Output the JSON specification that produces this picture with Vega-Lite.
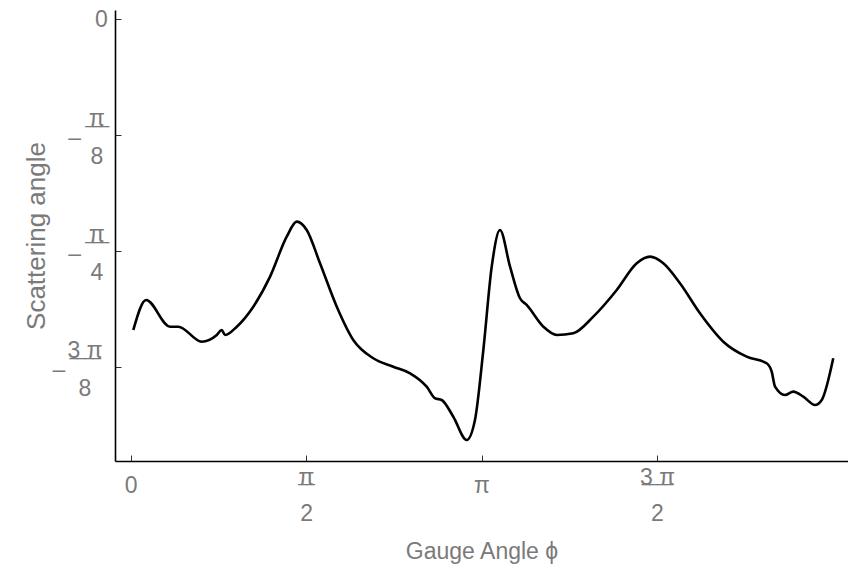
{
  "$schema": "https://vega.github.io/schema/vega-lite/v6.json",
  "width": 733,
  "height": 451,
  "autosize": {"type": "none"},
  "padding": {"left": 115, "top": 10, "right": 0, "bottom": 107},
  "background": "white",
  "config": {
    "view": {"stroke": null},
    "font": "Liberation Sans",
    "axis": {
      "grid": false,
      "domainColor": "#000000",
      "domainWidth": 1.6,
      "tickColor": "#333333",
      "tickWidth": 1,
      "tickSize": -6,
      "labelFont": "Liberation Sans",
      "labelFontSize": 23,
      "labelColor": "#7a7a7a",
      "titleFont": "Liberation Sans",
      "titleFontWeight": "normal",
      "titleColor": "#7a7a7a"
    }
  },
  "data": {
    "values": [
      {"phi": 0.025, "theta": -1.0512},
      {"phi": 0.139, "theta": -0.9496},
      {"phi": 0.354, "theta": -1.0400},
      {"phi": 0.428, "theta": -1.0400},
      {"phi": 0.637, "theta": -1.0908},
      {"phi": 0.772, "theta": -1.0681},
      {"phi": 0.816, "theta": -1.0512},
      {"phi": 0.846, "theta": -1.0681},
      {"phi": 0.951, "theta": -1.0400},
      {"phi": 1.099, "theta": -0.9723},
      {"phi": 1.249, "theta": -0.8707},
      {"phi": 1.398, "theta": -0.7353},
      {"phi": 1.488, "theta": -0.6845},
      {"phi": 1.577, "theta": -0.7126},
      {"phi": 1.696, "theta": -0.8254},
      {"phi": 1.846, "theta": -0.9723},
      {"phi": 1.994, "theta": -1.0850},
      {"phi": 2.173, "theta": -1.1470},
      {"phi": 2.352, "theta": -1.1754},
      {"phi": 2.502, "theta": -1.1977},
      {"phi": 2.651, "theta": -1.2431},
      {"phi": 2.725, "theta": -1.2824},
      {"phi": 2.785, "theta": -1.2881},
      {"phi": 2.889, "theta": -1.3447},
      {"phi": 3.009, "theta": -1.4236},
      {"phi": 3.083, "theta": -1.3558},
      {"phi": 3.158, "theta": -1.1189},
      {"phi": 3.233, "theta": -0.8369},
      {"phi": 3.307, "theta": -0.7126},
      {"phi": 3.397, "theta": -0.8369},
      {"phi": 3.486, "theta": -0.9438},
      {"phi": 3.546, "theta": -0.9665},
      {"phi": 3.695, "theta": -1.0400},
      {"phi": 3.815, "theta": -1.0681},
      {"phi": 3.963, "theta": -1.0623},
      {"phi": 4.142, "theta": -1.0061},
      {"phi": 4.352, "theta": -0.9158},
      {"phi": 4.531, "theta": -0.8254},
      {"phi": 4.650, "theta": -0.8030},
      {"phi": 4.769, "theta": -0.8254},
      {"phi": 4.918, "theta": -0.8931},
      {"phi": 5.097, "theta": -0.9946},
      {"phi": 5.306, "theta": -1.0908},
      {"phi": 5.515, "theta": -1.1416},
      {"phi": 5.694, "theta": -1.1639},
      {"phi": 5.739, "theta": -1.1923},
      {"phi": 5.769, "theta": -1.2431},
      {"phi": 5.858, "theta": -1.2712},
      {"phi": 5.932, "theta": -1.2600},
      {"phi": 6.022, "theta": -1.2770},
      {"phi": 6.127, "theta": -1.3051},
      {"phi": 6.187, "theta": -1.2881},
      {"phi": 6.290, "theta": -1.1470}
    ]
  },
  "mark": {"type": "line", "color": "#000000", "strokeWidth": 2.6, "interpolate": "monotone"},
  "encoding": {
    "x": {
      "field": "phi",
      "type": "quantitative",
      "scale": {"domain": [-0.139, 6.422], "nice": false, "zero": false},
      "axis": {
        "title": "Gauge Angle ϕ",
        "titleFontSize": 23,
        "values": [0, 1.5708, 3.1416, 4.7124],
        "labelExpr": "datum.value < 0.1 ? '0' : datum.value < 2 ? ['π', '‾‾', '2'] : datum.value < 4 ? 'π' : ['3 π', '‾‾‾‾', '2']",
        "labelLineHeight": 18,
        "labelPadding": {"condition": {"test": "datum.value < 0.1 || (datum.value > 3 && datum.value < 3.3)", "value": 19}, "value": 11},
        "labelBaseline": "top",
        "titlePadding": 15
      }
    },
    "y": {
      "field": "theta",
      "type": "quantitative",
      "scale": {"domain": [-1.4947, 0.032], "nice": false, "zero": false},
      "axis": {
        "title": "Scattering angle",
        "titleFontSize": 26,
        "values": [0, -0.3927, -0.7854, -1.1781],
        "labelExpr": "datum.value > -0.1 ? '0' : datum.value > -0.5 ? ['\u2800π', '–\u2009‾‾‾', '\u28008'] : datum.value > -0.9 ? ['\u2800π', '–\u2009‾‾‾', '\u28004'] : ['\u28003 π', '–\u2009‾‾‾‾', '\u28008']",
        "labelLineHeight": 19,
        "labelAlign": "center",
        "labelPadding": {"condition": [{"test": "datum.value > -0.1", "value": 20}, {"test": "datum.value < -1", "value": 45}], "value": 33},
        "labelOffset": {"condition": {"test": "datum.value > -0.1", "value": 0}, "value": -17},
        "labelBaseline": "middle",
        "titlePadding": 0
      }
    }
  }
}
